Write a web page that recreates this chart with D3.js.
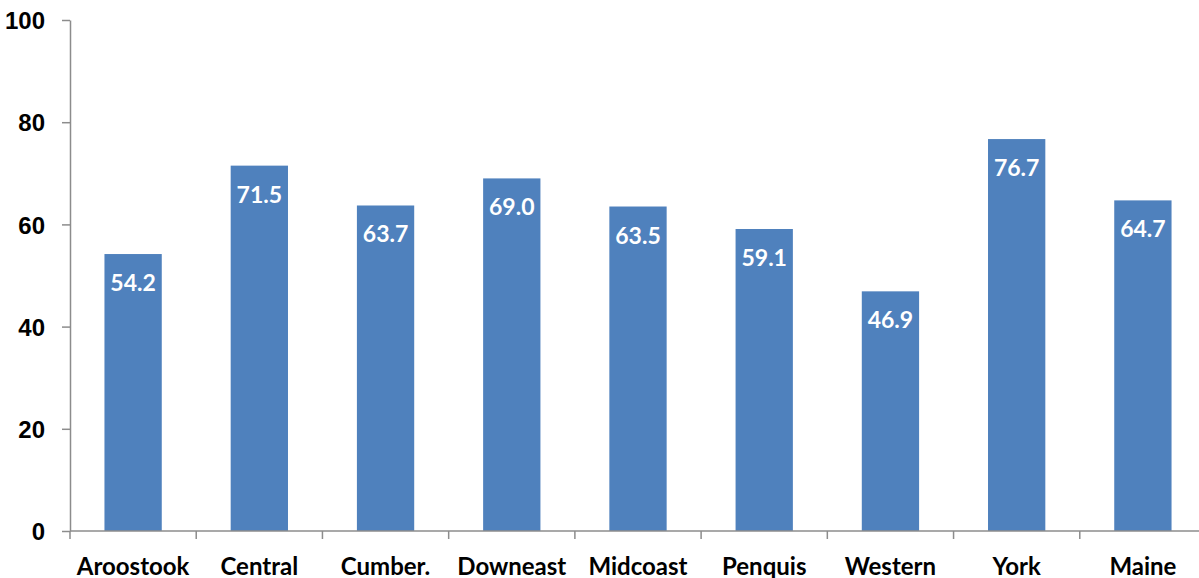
<!DOCTYPE html>
<html>
<head>
<meta charset="utf-8">
<script src="https://cdn.jsdelivr.net/npm/d3@7"></script>
<style>
  body { margin: 0; background: #fff; }
  svg { display: block; font-family: Lato, "Open Sans", sans-serif; }
  .axis path, .axis line { stroke: #8c8c8c; stroke-width: 1.5px; }
  .axis text { font-size: 24px; font-weight: 700; fill: #000; }
  .bar-label { font-size: 23px; font-weight: 700; fill: #fff; }
</style>
</head>
<body>
<svg id="chart" width="1199" height="578"></svg>
<script>
var regions = ["Aroostook", "Central", "Cumber.", "Downeast", "Midcoast", "Penquis", "Western", "York", "Maine"];
var values = [54.2, 71.5, 63.7, 69.0, 63.5, 59.1, 46.9, 76.7, 64.7];
var yTicks = [0, 20, 40, 60, 80, 100];

var svg = d3.select("#chart");
var plotLeft = 70, plotRight = 1206, plotTop = 20, plotBottom = 531;

var x = d3.scaleBand()
  .domain(regions)
  .range([plotLeft, plotRight])
  .paddingInner(0.546)
  .paddingOuter(0.273);

var y = d3.scaleLinear()
  .domain([0, 100])
  .range([plotBottom, plotTop]);

// Bars
svg.selectAll(".bar")
  .data(values)
  .enter().append("rect")
  .attr("class", "bar")
  .attr("x", function(d, i) { return x(regions[i]); })
  .attr("y", function(d) { return y(d); })
  .attr("width", x.bandwidth())
  .attr("height", function(d) { return y(0) - y(d); })
  .attr("fill", "#4f81bd");

// Value labels inside top of bars
svg.selectAll(".bar-label")
  .data(values)
  .enter().append("text")
  .attr("class", "bar-label")
  .attr("x", function(d, i) { return x(regions[i]) + x.bandwidth() / 2; })
  .attr("y", function(d) { return y(d) + 37; })
  .attr("text-anchor", "middle")
  .text(function(d) { return d.toFixed(1); });

// Y axis
var yAxis = svg.append("g")
  .attr("class", "axis")
  .attr("transform", "translate(" + plotLeft + ",0)")
  .call(d3.axisLeft(y).tickValues(yTicks).tickSize(8).tickPadding(17).tickSizeOuter(0));
yAxis.selectAll("text").attr("dy", "0.36em");

// X axis, ticks sit between categories
var xAxis = svg.append("g")
  .attr("class", "axis")
  .attr("transform", "translate(0," + plotBottom + ")");
xAxis.append("line")
  .attr("x1", plotLeft).attr("x2", plotRight)
  .attr("y1", 0).attr("y2", 0);
xAxis.selectAll(".sep")
  .data(d3.range(regions.length + 1))
  .enter().append("line")
  .attr("class", "sep")
  .attr("x1", function(i) { return plotLeft + i * x.step(); })
  .attr("x2", function(i) { return plotLeft + i * x.step(); })
  .attr("y1", 0).attr("y2", 8);
xAxis.selectAll(".cat")
  .data(regions)
  .enter().append("text")
  .attr("x", function(d) { return x(d) + x.bandwidth() / 2; })
  .attr("y", 44)
  .attr("text-anchor", "middle")
  .text(function(d) { return d; });
</script>
</body>
</html>
